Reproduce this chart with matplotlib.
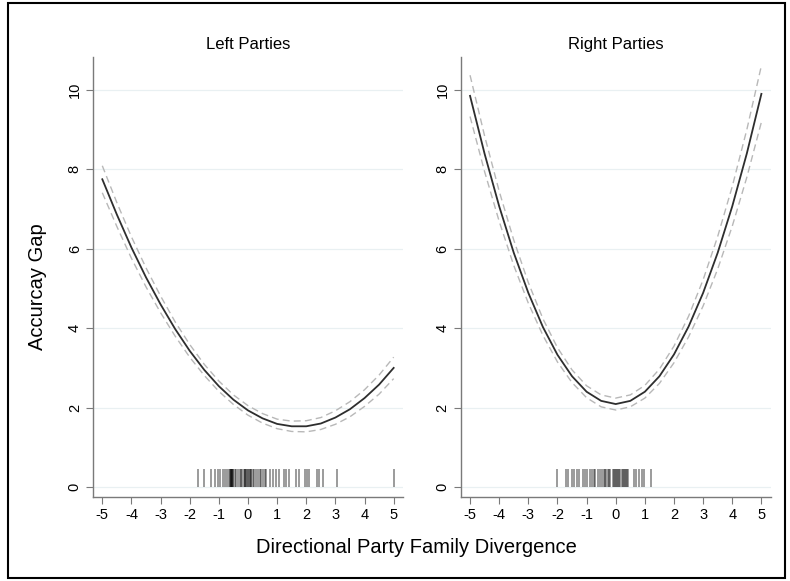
import matplotlib
matplotlib.use("Agg")
import matplotlib.pyplot as plt
from matplotlib.patches import Rectangle

plt.rcParams['font.family'] = ['Liberation Sans', 'DejaVu Sans']

# predicted accuracy gap (margins) at x = -5 .. 5, step 0.5
x_vals = [-5, -4.5, -4, -3.5, -3, -2.5, -2, -1.5, -1, -0.5, 0,
          0.5, 1, 1.5, 2, 2.5, 3, 3.5, 4, 4.5, 5]

left_fit = [7.75, 6.86, 6.03, 5.28, 4.60, 3.98, 3.43, 2.95, 2.54, 2.20, 1.93,
            1.73, 1.59, 1.53, 1.53, 1.60, 1.75, 1.96, 2.24, 2.58, 3.00]
left_hi = [8.09, 7.16, 6.30, 5.52, 4.81, 4.16, 3.59, 3.09, 2.67, 2.32, 2.05,
           1.85, 1.71, 1.66, 1.67, 1.75, 1.92, 2.15, 2.45, 2.82, 3.27]
left_lo = [7.41, 6.56, 5.76, 5.04, 4.39, 3.80, 3.27, 2.81, 2.41, 2.08, 1.81,
           1.61, 1.47, 1.40, 1.39, 1.45, 1.58, 1.77, 2.03, 2.34, 2.73]

right_fit = [9.85, 8.39, 7.07, 5.90, 4.89, 4.03, 3.33, 2.79, 2.40, 2.17, 2.09,
             2.17, 2.40, 2.79, 3.34, 4.04, 4.89, 5.90, 7.07, 8.40, 9.90]
right_hi = [10.37, 8.84, 7.45, 6.22, 5.15, 4.24, 3.51, 2.95, 2.55, 2.32, 2.24,
            2.32, 2.56, 2.97, 3.55, 4.30, 5.22, 6.31, 7.57, 9.00, 10.61]
right_lo = [9.33, 7.94, 6.69, 5.58, 4.63, 3.82, 3.15, 2.63, 2.25, 2.02, 1.94,
            2.02, 2.24, 2.61, 3.13, 3.78, 4.56, 5.49, 6.57, 7.80, 9.19]

# observed divergence values (rug)
left_rug = [-1.71, -1.51, -1.26, -1.14, -1.03, -0.95, -0.86, -0.78, -0.71,
            -0.65, -0.62, -0.60, -0.60, -0.58, -0.56, -0.56, -0.53, -0.51,
            -0.45, -0.40, -0.35, -0.29, -0.24, -0.19, -0.15, -0.11, -0.10,
            -0.06, -0.03, 0.00, 0.02, 0.06, 0.10, 0.11, 0.17, 0.22, 0.29,
            0.34, 0.40, 0.45, 0.51, 0.57, 0.63, 0.74, 0.86, 0.97, 1.08,
            1.23, 1.31, 1.40, 1.66, 1.75, 1.94, 2.02, 2.09, 2.36, 2.45,
            2.57, 3.05, 5.00]
right_rug = [-2.01, -1.71, -1.63, -1.51, -1.43, -1.34, -1.25, -1.13, -1.05,
             -0.98, -0.90, -0.83, -0.76, -0.70, -0.62, -0.55, -0.48, -0.40,
             -0.36, -0.33, -0.25, -0.22, -0.18, -0.10, -0.06, -0.03, 0.00,
             0.05, 0.09, 0.12, 0.16, 0.20, 0.24, 0.27, 0.31, 0.35, 0.39,
             0.43, 0.63, 0.71, 0.79, 0.89, 0.97, 1.21]

titles = ["Left Parties", "Right Parties"]
x_ticks = [-5, -4, -3, -2, -1, 0, 1, 2, 3, 4, 5]
y_ticks = [0, 2, 4, 6, 8, 10]

fig = plt.figure(figsize=(7.9, 5.81), dpi=100)
ax_l = fig.add_axes([0.1177, 0.1446, 0.3924, 0.7574])
ax_r = fig.add_axes([0.5832, 0.1446, 0.3924, 0.7574])

panels = [
    (ax_l, left_fit, left_hi, left_lo, left_rug),
    (ax_r, right_fit, right_hi, right_lo, right_rug),
]

for (ax, fit, hi, lo, rug), title in zip(panels, titles):
    for yt in y_ticks:
        ax.axhline(yt, color='#e9f0f2', lw=0.9, zorder=0)
    ax.plot(x_vals, hi, color='#b8b8b8', lw=1.0, ls=(0, (5, 3)))
    ax.plot(x_vals, lo, color='#b8b8b8', lw=1.0, ls=(0, (5, 3)))
    ax.plot(x_vals, fit, color='#2e2e2e', lw=1.3)
    ax.vlines(rug, 0, 0.45, color='black', alpha=0.5, lw=1.1)

    ax.set_xlim(-5.32, 5.32)
    ax.set_ylim(-0.25, 10.83)
    ax.set_xticks(x_ticks)
    ax.set_xticklabels([str(t) for t in x_ticks])
    ax.set_yticks(y_ticks)
    ax.set_yticklabels([str(t) for t in y_ticks], rotation=90, va='center')
    ax.tick_params(axis='both', direction='out', length=5, width=0.8,
                   color='#7a7a7a', labelsize=10.5, pad=3)
    ax.set_title(title, fontsize=12, pad=6)
    for side in ['top', 'right']:
        ax.spines[side].set_visible(False)
    for side in ['left', 'bottom']:
        ax.spines[side].set_color('#7a7a7a')
        ax.spines[side].set_linewidth(1.0)

fig.text(0.048, 0.506, "Accurcay Gap", rotation=90, fontsize=14.5,
         ha='center', va='center')
fig.text(0.527, 0.0585, "Directional Party Family Divergence", fontsize=14.5,
         ha='center', va='center')

fig.add_artist(Rectangle((0.0101, 0.005), 0.9835, 0.9897, transform=fig.transFigure,
                         fill=False, edgecolor='black', lw=1.5))

fig.savefig("out.png", dpi=100)
